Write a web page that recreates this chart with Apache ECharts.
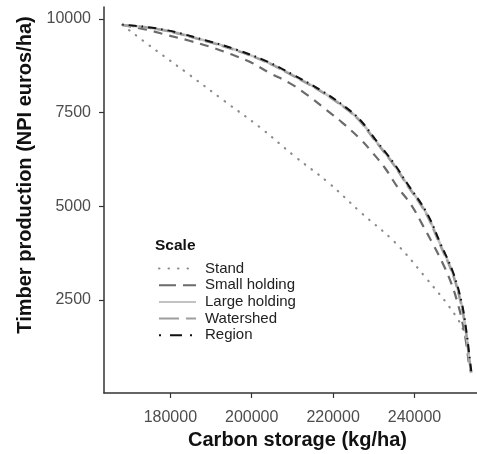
<!DOCTYPE html>
<html>
<head>
<meta charset="utf-8">
<script src="https://cdn.jsdelivr.net/npm/echarts@6/dist/echarts.min.js"></script>
<style>
  html, body { margin: 0; padding: 0; background: #fff; }
  #chart { width: 477px; height: 454px; }
</style>
</head>
<body>
<div id="chart"></div>
<script>
// Trade-off frontiers between carbon storage and timber production, by planning scale
const seriesNames = ['Stand', 'Small holding', 'Large holding', 'Watershed', 'Region'];

const standCarbon = [168200, 176400, 184700, 193300, 201900, 210500, 218650, 227000, 235100, 242200, 250300, 252550, 253950];
const standTimber = [9840, 9170, 8510, 7810, 7120, 6340, 5650, 4820, 4050, 3170, 2050, 1490, 555];

const smallCarbon = [168200, 174400, 179300, 184700, 189700, 194600, 199500, 204400, 209300, 213700, 218400, 222100, 226900, 229700, 232700, 235800, 239200, 242000, 244400, 246900, 249000, 250600, 251800, 252700, 253500, 253950];
const smallTimber = [9840, 9710, 9570, 9420, 9260, 9070, 8860, 8560, 8290, 7970, 7570, 7250, 6770, 6430, 6030, 5520, 5040, 4500, 4020, 3490, 2960, 2420, 1890, 1360, 720, 555];

const largeCarbon = [168200, 178200, 189700, 196200, 203600, 210100, 216700, 222800, 226500, 230600, 234700, 238000, 242900, 246200, 249400, 251500, 252700, 253500, 253950];
const largeTimber = [9840, 9710, 9390, 9170, 8860, 8500, 8100, 7650, 7300, 6730, 6160, 5620, 4820, 4020, 3220, 2420, 1620, 900, 555];

const watershedCarbon = [168200, 178200, 189600, 196100, 203500, 210000, 216600, 222700, 226400, 230500, 234600, 237900, 242800, 246100, 249300, 251400, 252700, 253500, 253950];
const watershedTimber = [9840, 9700, 9380, 9160, 8850, 8490, 8090, 7640, 7290, 6720, 6150, 5610, 4810, 4010, 3210, 2410, 1610, 890, 555];

const regionCarbon = [168200, 178200, 189700, 196300, 203700, 210200, 216800, 222900, 226600, 230700, 234800, 238100, 243000, 246300, 249500, 251600, 252800, 253600, 254000];
const regionTimber = [9850, 9720, 9400, 9180, 8870, 8510, 8110, 7660, 7310, 6740, 6170, 5630, 4830, 4030, 3230, 2430, 1630, 910, 560];

const xTicks = [180000, 200000, 220000, 240000];
const yTicks = [2500, 5000, 7500, 10000];

function pairs(xs, ys) { return xs.map((x, i) => [x, ys[i]]); }

const FONT = '"Liberation Sans", Arial, sans-serif';

// line look per scale: plot dash pattern and legend-key dash pattern
const styles = [
  { color: '#8c8c8c', width: 2.2, type: [0.5, 8], key: [0.5, 9], cap: 'round' },
  { color: '#6b6b6b', width: 2.2, type: [9, 7], key: [17, 7], cap: 'butt' },
  { color: '#c2c2c2', width: 2.6, type: 'solid', key: 'solid', cap: 'butt' },
  { color: '#9e9e9e', width: 2.2, type: [12, 5], key: [20, 7], cap: 'butt' },
  { color: '#111111', width: 2.0, type: [1.5, 5, 8, 5], key: [2, 9, 12, 8], cap: 'butt' }
];
const datasets = [
  pairs(standCarbon, standTimber),
  pairs(smallCarbon, smallTimber),
  pairs(largeCarbon, largeTimber),
  pairs(watershedCarbon, watershedTimber),
  pairs(regionCarbon, regionTimber)
];

const chart = echarts.init(document.getElementById('chart'), null, { renderer: 'canvas' });

chart.setOption({
  animation: false,
  backgroundColor: '#ffffff',
  textStyle: { fontFamily: FONT },
  grid: { left: 104, top: 7, right: -14, bottom: 61, containLabel: false, outerBoundsMode: 'none' },
  title: {
    text: 'Scale',
    left: 150,
    top: 233,
    textStyle: { fontFamily: FONT, fontWeight: 'bold', fontSize: 15.5, color: '#111' }
  },
  legend: {
    orient: 'vertical',
    left: 158,
    top: 261,
    padding: 0,
    itemWidth: 37,
    itemHeight: 14,
    itemGap: 1.7,
    itemStyle: { opacity: 0 },
    data: seriesNames.map((name, i) => ({
      name: name,
      lineStyle: { type: styles[i].key, cap: styles[i].cap }
    })),
    textStyle: { fontFamily: FONT, fontSize: 15, lineHeight: 14, color: '#222', padding: [0, 0, 0, 4] }
  },
  graphic: [{
    type: 'text',
    x: 25,
    y: 175,
    rotation: Math.PI / 2,
    style: {
      text: 'Timber production (NPI euros/ha)',
      font: 'bold 20px ' + FONT,
      fill: '#111',
      align: 'center',
      verticalAlign: 'middle'
    }
  }],
  xAxis: {
    type: 'value',
    min: 163700,
    max: 258800,
    name: 'Carbon storage (kg/ha)',
    nameLocation: 'middle',
    nameGap: 34,
    nameTextStyle: { fontFamily: FONT, fontWeight: 'bold', fontSize: 20, color: '#111' },
    axisLine: { show: true, lineStyle: { color: '#333', width: 1.5 } },
    axisTick: { show: true, length: 5, customValues: xTicks, lineStyle: { color: '#333', width: 1.2 } },
    axisLabel: { customValues: xTicks, fontSize: 16, color: '#4d4d4d', margin: 17, fontFamily: FONT, formatter: v => String(v) },
    splitLine: { show: false }
  },
  yAxis: {
    type: 'value',
    min: 20,
    max: 10320,
    axisLine: { show: true, lineStyle: { color: '#333', width: 1.5 } },
    axisTick: { show: true, length: 5, customValues: yTicks, lineStyle: { color: '#333', width: 1.2 } },
    axisLabel: { customValues: yTicks, fontSize: 16, color: '#4d4d4d', margin: 13, fontFamily: FONT, formatter: v => String(v) },
    splitLine: { show: false }
  },
  series: seriesNames.map((name, i) => ({
    name: name,
    type: 'line',
    data: datasets[i],
    symbol: 'none',
    smooth: 0.4,
    z: 2 + i,
    clip: false,
    color: styles[i].color,
    lineStyle: {
      color: styles[i].color,
      width: styles[i].width,
      type: styles[i].type,
      cap: styles[i].cap
    }
  }))
});
</script>
</body>
</html>
